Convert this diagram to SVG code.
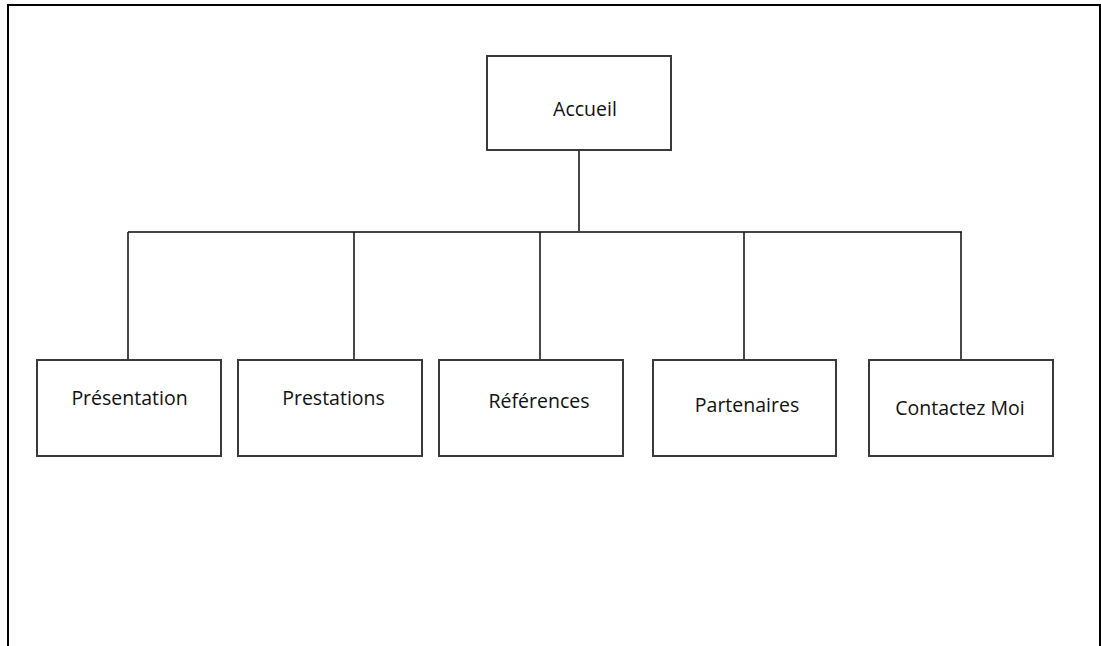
<svg xmlns="http://www.w3.org/2000/svg" width="1101" height="646" viewBox="0 0 1101 646">
<style>
.box{fill:#fff;stroke:#3a3a3a;stroke-width:2}
.lbl{font-family:"Open Sans","Liberation Sans",sans-serif;font-size:19.5px;font-weight:500;fill:#111;text-anchor:middle}
.con{fill:none;stroke:#1a1a1a;stroke-width:1.6}
.frame{fill:none;stroke:#000;stroke-width:2}
</style>
<rect x="0" y="0" width="1101" height="646" fill="#fff"/>
<path class="frame" d="M8 646 V5 H1100 V646"/>
<g id="connectors">
<path class="con" d="M579 150 V232"/>
<path class="con" d="M128 232 H962" style="stroke:#444;stroke-width:2"/>
<path class="con" d="M128 232 V360"/>
<path class="con" d="M354 232 V360"/>
<path class="con" d="M540 232 V360"/>
<path class="con" d="M744 232 V360"/>
<path class="con" d="M961 232 V360"/>
</g>
<g id="accueil"><rect class="box" x="487" y="56" width="184" height="94"/><text class="lbl" x="585" y="116">Accueil</text></g>
<g id="presentation"><rect class="box" x="37" y="360" width="184" height="96"/><text class="lbl" x="129.5" y="405">Présentation</text></g>
<g id="prestations"><rect class="box" x="238" y="360" width="184" height="96"/><text class="lbl" x="333.5" y="405">Prestations</text></g>
<g id="references"><rect class="box" x="439" y="360" width="184" height="96"/><text class="lbl" x="539" y="408">Références</text></g>
<g id="partenaires"><rect class="box" x="653" y="360" width="183" height="96"/><text class="lbl" x="747" y="412">Partenaires</text></g>
<g id="contactez"><rect class="box" x="869" y="360" width="184" height="96"/><text class="lbl" x="960" y="415">Contactez Moi</text></g>
</svg>
